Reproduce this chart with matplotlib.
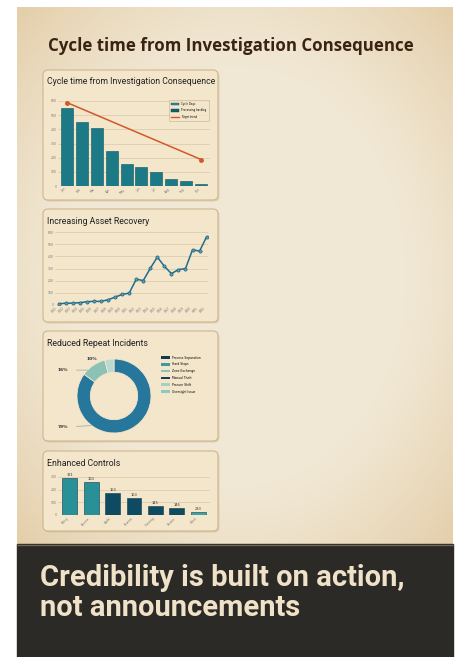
import numpy as np
import matplotlib.pyplot as plt
from matplotlib.patches import FancyBboxPatch, Rectangle, Patch
from matplotlib.lines import Line2D

cycle_labels = ["Jan", "Feb", "Mar", "Apr", "May", "Jun", "Jul", "Aug", "Sep", "Oct"]
cycle_days = [553, 452, 409, 248, 158, 132, 102, 52, 38, 17]
trend_idx = [0, 9]
trend_vals = [589, 187]

recovery_labels = ["W%02d" % i for i in range(1, 23)]
recovery_vals = [11, 14, 16, 19, 27, 30, 30, 43, 65, 87, 98,
                 212, 201, 302, 394, 318, 258, 291, 299, 454, 443, 560]

repeat_shares = [85, 11, 4]
repeat_pct_text = ["79%", "16%", "10%"]
repeat_legend = ["Process Separation", "Hard Stops", "Zone Exchange",
                 "Manual Theft", "Procure Shift", "Oversight Issue"]
repeat_legend_colors = ["#17394f", "#3f9aa0", "#8cc4bb", "#1b3d56", "#a6d0c4", "#8cc9c0"]

controls_labels = ["Policy", "Access", "Audit", "Review", "Training", "Vendor", "Other"]
controls_vals = [289, 258, 174, 132, 74, 53, 21]
controls_text = ["321", "160", "163", "163", "145", "146", "283"]

W, H = 459, 657
fig = plt.figure(figsize=(W / 100, H / 100), dpi=100, facecolor="white")
bg = fig.add_axes([0, 0, 1, 1])
bg.set_xlim(0, W)
bg.set_ylim(H, 0)
bg.axis("off")

# parchment with slightly darker edges
px0, px1, py0, py1 = 17, 453, 7, 545
yy, xx = np.mgrid[0:py1 - py0, 0:px1 - px0]
cx, cy = (px1 - px0) / 2, (py1 - py0) / 2
r = np.sqrt(((xx - cx) / cx) ** 2 + ((yy - cy) / cy) ** 2)
f = np.clip((r - 0.75) / 0.7, 0, 1) ** 1.3
c_in = np.array([0.945, 0.91, 0.835])
c_out = np.array([0.89, 0.80, 0.65])
img = c_in[None, None, :] * (1 - f[..., None]) + c_out[None, None, :] * f[..., None]
bg.imshow(img, extent=(px0, px1, py1, py0), aspect="auto", zorder=0)

bg.add_patch(Rectangle((px0, 544), px1 - px0, H - 544, color="#2b2a26", zorder=1))
bg.plot([px0, px1], [544.5, 544.5], color="#6e6556", lw=1, zorder=2)

bg.text(231, 46, "Cycle time from Investigation Consequence", ha="center", va="center",
        fontsize=12.2, fontweight="bold", family="Open Sans", color="#3b2313")

bg.text(40, 578, "Credibility is built on action,", ha="left", va="center",
        fontsize=21, fontweight="bold", family="Roboto", color="#efe2c8")
bg.text(40, 608, "not announcements", ha="left", va="center",
        fontsize=21, fontweight="bold", family="Roboto", color="#efe2c8")

panels = [(43, 70, 218, 200), (43, 209, 218, 322), (43, 331, 218, 441), (43, 451, 218, 531)]
for x0, y0, x1, y1 in panels:
    bg.add_patch(FancyBboxPatch((x0 + 1.5, y0 + 1.5), x1 - x0, y1 - y0,
                                boxstyle="round,pad=0,rounding_size=5",
                                fc="#b89b6e", ec="none", alpha=0.3, zorder=3))
    bg.add_patch(FancyBboxPatch((x0, y0), x1 - x0, y1 - y0,
                                boxstyle="round,pad=0,rounding_size=5",
                                fc="#f3e6cb", ec="#cdb68f", lw=0.8, zorder=4))

titles = ["Cycle time from Investigation Consequence", "Increasing Asset Recovery",
          "Reduced Repeat Incidents", "Enhanced Controls"]
title_y = [82, 221, 343, 463]
for t, ty in zip(titles, title_y):
    bg.text(47, ty, t, ha="left", va="center", fontsize=6.3, family="Roboto",
            color="#222", zorder=5)


def px_axes(x0, y0, x1, y1):
    return fig.add_axes([x0 / W, 1 - y1 / H, (x1 - x0) / W, (y1 - y0) / H])


def style(ax):
    ax.set_facecolor("none")
    for s in ax.spines.values():
        s.set_visible(False)
    ax.grid(axis="y", color="#d8c9ac", lw=0.5)
    ax.set_axisbelow(True)
    ax.tick_params(length=0, labelsize=2.2, labelcolor="#777", pad=1)


# chart 1
ax1 = px_axes(58, 101, 210, 186)
style(ax1)
x1 = np.arange(len(cycle_days))
ax1.bar(x1, cycle_days, width=0.8, color="#1b7a85", edgecolor="#0f5560", lw=0.4,
        label="Cycle Days")
ax1.plot(trend_idx, trend_vals, color="#d2582a", lw=1.1, marker="o", ms=2.5, zorder=4)
ax1.set_ylim(0, 600)
ax1.set_xlim(-0.6, len(cycle_days) - 0.4)
ax1.set_yticks(range(0, 601, 100))
ax1.set_xticks(x1)
ax1.set_xticklabels(cycle_labels, rotation=45, ha="right")
h1 = [Patch(fc="#2a9098", ec="#115862", lw=0.3), Patch(fc="#165e6c", ec="#0e4450", lw=0.3),
      Line2D([0], [0], color="#d2582a", lw=1)]
ax1.legend(h1, ["Cycle Days", "Processing backlog", "Target trend"], loc="upper right",
           fontsize=1.9, frameon=True, facecolor="#f3e6cb", edgecolor="#b8a27d",
           handlelength=3, handleheight=1, labelspacing=0.9, borderpad=0.8,
           bbox_to_anchor=(1.0, 1.03)).get_frame().set_linewidth(0.4)

# chart 2
ax2 = px_axes(55, 232, 208, 305)
style(ax2)
x2 = np.arange(len(recovery_vals))
ax2.plot(x2, recovery_vals, color="#1f6d8c", lw=1.1, marker="o", ms=2.3,
         markerfacecolor="#5d9fb5", markeredgecolor="#1f5f7c", markeredgewidth=0.5)
ax2.set_ylim(0, 600)
ax2.set_xlim(-0.55, len(recovery_vals) - 0.8)
ax2.set_yticks(range(0, 601, 100))
ax2.set_xticks(x2)
ax2.set_xticklabels(recovery_labels, rotation=45, ha="right")

# chart 3
ax3 = px_axes(77, 359, 151, 433)
ax3.set_facecolor("none")
wedges, _ = ax3.pie(repeat_shares, colors=["#27769c", "#8cc1b5", "#bcd9cf"],
                    startangle=90, counterclock=False, radius=1,
                    wedgeprops=dict(width=0.36, edgecolor="#f3e6cb", lw=0.6))
ax3.set_xlim(-1, 1)
ax3.set_ylim(-1, 1)
ax3.set_aspect("equal")
ax3.axis("off")
kw = dict(fontsize=3.2, fontweight="bold", color="#333", ha="center", va="center",
          annotation_clip=False)
ax3.annotate(repeat_pct_text[0], xy=(-0.62, -0.8), xytext=(-1.38, -0.84),
             arrowprops=dict(arrowstyle="-", color="#8aa", lw=0.5, shrinkA=4, shrinkB=0), **kw)
ax3.annotate(repeat_pct_text[1], xy=(-0.7, 0.7), xytext=(-1.38, 0.70),
             arrowprops=dict(arrowstyle="-", color="#8aa", lw=0.5, shrinkA=4, shrinkB=0), **kw)
ax3.annotate(repeat_pct_text[2], xy=(-0.6, 1.0), xytext=(-0.6, 1.0), **kw)
h3 = [Patch(fc=c, ec="none") for c in repeat_legend_colors]
ax3.legend(h3, repeat_legend, loc="upper left", bbox_to_anchor=(158 / W, 1 - 353 / H),
           bbox_transform=fig.transFigure, fontsize=2.2, frameon=False,
           handlelength=3, handleheight=0.9, labelspacing=0.9, handletextpad=0.8)

# chart 4
ax4 = px_axes(58, 473, 210, 515)
style(ax4)
x4 = np.arange(len(controls_vals))
c4 = ["#2a9098", "#2a9098", "#0f4a63", "#0f4a63", "#0f4a63", "#0f4a63", "#3aa3a3"]
bars = ax4.bar(x4, controls_vals, width=0.7, color=c4, edgecolor="#0c3a4c", lw=0.4)
for b, t in zip(bars, controls_text):
    ax4.text(b.get_x() + b.get_width() / 2, b.get_height() + 8, t, ha="center",
             va="bottom", fontsize=2.6, color="#333")
ax4.set_ylim(0, 330)
ax4.set_xlim(-0.55, len(controls_vals) - 0.45)
ax4.set_yticks(range(0, 301, 100))
ax4.set_xticks(x4)
ax4.set_xticklabels(controls_labels, rotation=45, ha="right")

fig.savefig("out.png", dpi=100, facecolor="white")
